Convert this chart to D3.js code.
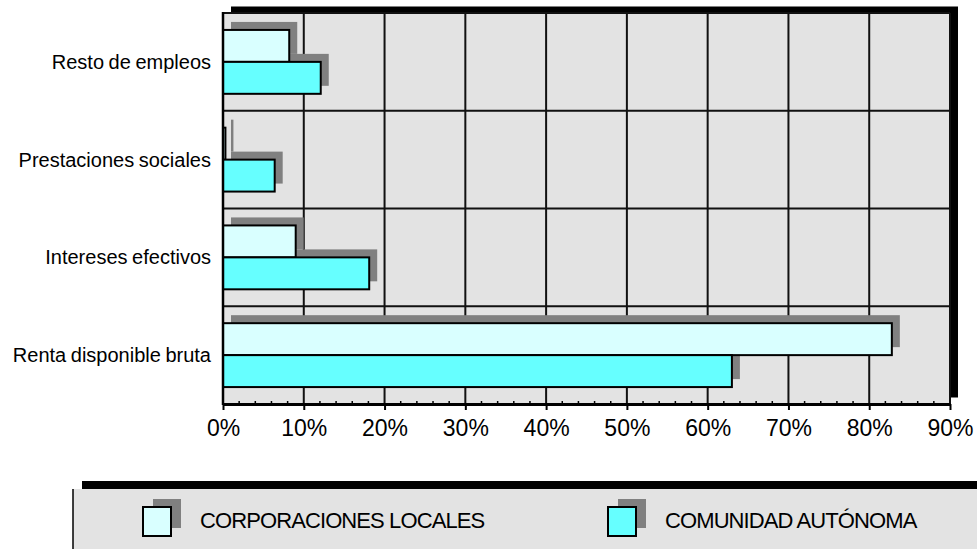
<!DOCTYPE html>
<html><head><meta charset="utf-8">
<script src="https://cdn.jsdelivr.net/npm/d3@7"></script>
<style>
body{margin:0;background:#fff}
svg{display:block}
text{font-family:"Liberation Sans",Arial,Helvetica,sans-serif;fill:#000}
</style>
</head><body>
<svg id="chart" width="977" height="549"></svg>
<script>
// ---- data ----
const categories = ["Resto de empleos", "Prestaciones sociales", "Intereses efectivos", "Renta disponible bruta"];
const seriesNames = ["CORPORACIONES LOCALES", "COMUNIDAD AUTÓNOMA"];
const corporacionesLocales = [8.2, 0.3, 9.0, 82.8];
const comunidadAutonoma = [12.1, 6.4, 18.1, 63.0];
const tickValues = [0, 10, 20, 30, 40, 50, 60, 70, 80, 90];
const tickLabels = ["0%", "10%", "20%", "30%", "40%", "50%", "60%", "70%", "80%", "90%"];
const seriesColors = ["#D9FFFF", "#66FFFF"];

// ---- layout ----
const svg = d3.select("#chart");
const plot = {left: 223, right: 950, top: 13, bottom: 404};
const shadowDX = 8, shadowDY = -8;
const shadowGray = "#808080";
const plotBg = "#E3E3E3";

const x = d3.scaleLinear().domain([0, 90]).range([plot.left, plot.right]);
const y = d3.scaleBand().domain(categories).range([plot.top, plot.bottom]).padding(0);
const yInner = d3.scaleBand().domain(seriesNames).range([0, y.bandwidth()]).paddingInner(0).paddingOuter(0.53);

const rows = [];
categories.forEach((c, i) => {
  rows.push({cat: c, s: seriesNames[0], v: corporacionesLocales[i], color: seriesColors[0]});
  rows.push({cat: c, s: seriesNames[1], v: comunidadAutonoma[i], color: seriesColors[1]});
});

// plot box shadow (black) and background
svg.append("rect")
  .attr("x", plot.left + 8).attr("y", plot.top - 6.5)
  .attr("width", plot.right - plot.left).attr("height", plot.bottom - plot.top)
  .attr("fill", "#000");
svg.append("rect")
  .attr("x", plot.left).attr("y", plot.top)
  .attr("width", plot.right - plot.left).attr("height", plot.bottom - plot.top)
  .attr("fill", plotBg);

// vertical gridlines
svg.append("g").selectAll("line").data(tickValues.slice(1)).join("line")
  .attr("x1", d => x(d)).attr("x2", d => x(d))
  .attr("y1", plot.top).attr("y2", plot.bottom)
  .attr("stroke", "#111").attr("stroke-width", 2);

// horizontal gridlines (band boundaries)
const hLines = categories.map(c => y(c));
svg.append("g").selectAll("line").data(hLines).join("line")
  .attr("x1", plot.left).attr("x2", plot.right)
  .attr("y1", d => d).attr("y2", d => d)
  .attr("stroke", "#111").attr("stroke-width", 2);

// bar shadows
svg.append("g").selectAll("rect").data(rows).join("rect")
  .attr("x", x(0) + shadowDX)
  .attr("y", d => y(d.cat) + yInner(d.s) + shadowDY)
  .attr("width", d => x(d.v) - x(0))
  .attr("height", yInner.bandwidth())
  .attr("fill", shadowGray);

// bars
svg.append("g").selectAll("rect").data(rows).join("rect")
  .attr("x", x(0))
  .attr("y", d => y(d.cat) + yInner(d.s))
  .attr("width", d => x(d.v) - x(0))
  .attr("height", yInner.bandwidth())
  .attr("fill", d => d.color)
  .attr("stroke", "#000").attr("stroke-width", 2);

// left axis line
svg.append("line")
  .attr("x1", plot.left).attr("x2", plot.left)
  .attr("y1", plot.top - 1).attr("y2", plot.bottom + 1)
  .attr("stroke", "#000").attr("stroke-width", 2.5);

// bottom axis
const axisG = svg.append("g").attr("transform", `translate(0,${plot.bottom})`);
const xAxis = d3.axisBottom(x).tickValues(tickValues)
  .tickFormat((d, i) => tickLabels[i]).tickSize(6).tickSizeOuter(0).tickPadding(10);
axisG.call(xAxis);
axisG.select(".domain").attr("stroke", "#000").attr("stroke-width", 3);
axisG.selectAll(".tick line").attr("stroke", "#000").attr("stroke-width", 2);
axisG.selectAll(".tick text")
  .attr("font-family", '"Liberation Sans",Arial,sans-serif')
  .attr("font-size", 23).attr("fill", "#000");

// minor ticks every 2%
const minor = d3.range(2, 90, 2).filter(v => v % 10 !== 0);
svg.append("g").selectAll("line").data(minor).join("line")
  .attr("x1", d => x(d)).attr("x2", d => x(d))
  .attr("y1", plot.bottom - 3).attr("y2", plot.bottom)
  .attr("stroke", "#000").attr("stroke-width", 1.5);

// category labels
svg.append("g").selectAll("text").data(categories).join("text")
  .attr("x", 211)
  .attr("y", d => y(d) + y.bandwidth() / 2)
  .attr("dy", "0.35em")
  .attr("text-anchor", "end")
  .attr("font-size", 20)
  .attr("letter-spacing", 0)
  .attr("word-spacing", -1)
  .text(d => d);

// ---- legend ----
const lg = {x: 73, y: 489};
svg.append("rect").attr("x", lg.x + 9).attr("y", lg.y - 8)
  .attr("width", 1000).attr("height", 100).attr("fill", "#000");
svg.append("rect").attr("x", lg.x).attr("y", lg.y)
  .attr("width", 1000).attr("height", 100).attr("fill", plotBg);
svg.append("line").attr("x1", lg.x).attr("x2", lg.x)
  .attr("y1", lg.y).attr("y2", 549).attr("stroke", "#000").attr("stroke-width", 1.5);

const legendX = [143, 608];
const items = svg.append("g").selectAll("g").data(seriesNames).join("g")
  .attr("transform", (d, i) => `translate(${legendX[i]},507)`);
items.append("rect").attr("x", 10).attr("y", -8).attr("width", 28).attr("height", 29)
  .attr("fill", shadowGray);
items.append("rect").attr("x", 0).attr("y", 0).attr("width", 28).attr("height", 29)
  .attr("fill", (d, i) => seriesColors[i]).attr("stroke", "#000").attr("stroke-width", 2);
items.append("text").attr("x", 57).attr("y", 21)
  .attr("font-size", 22).attr("letter-spacing", -0.9)
  .text(d => d);
</script>
</body></html>
